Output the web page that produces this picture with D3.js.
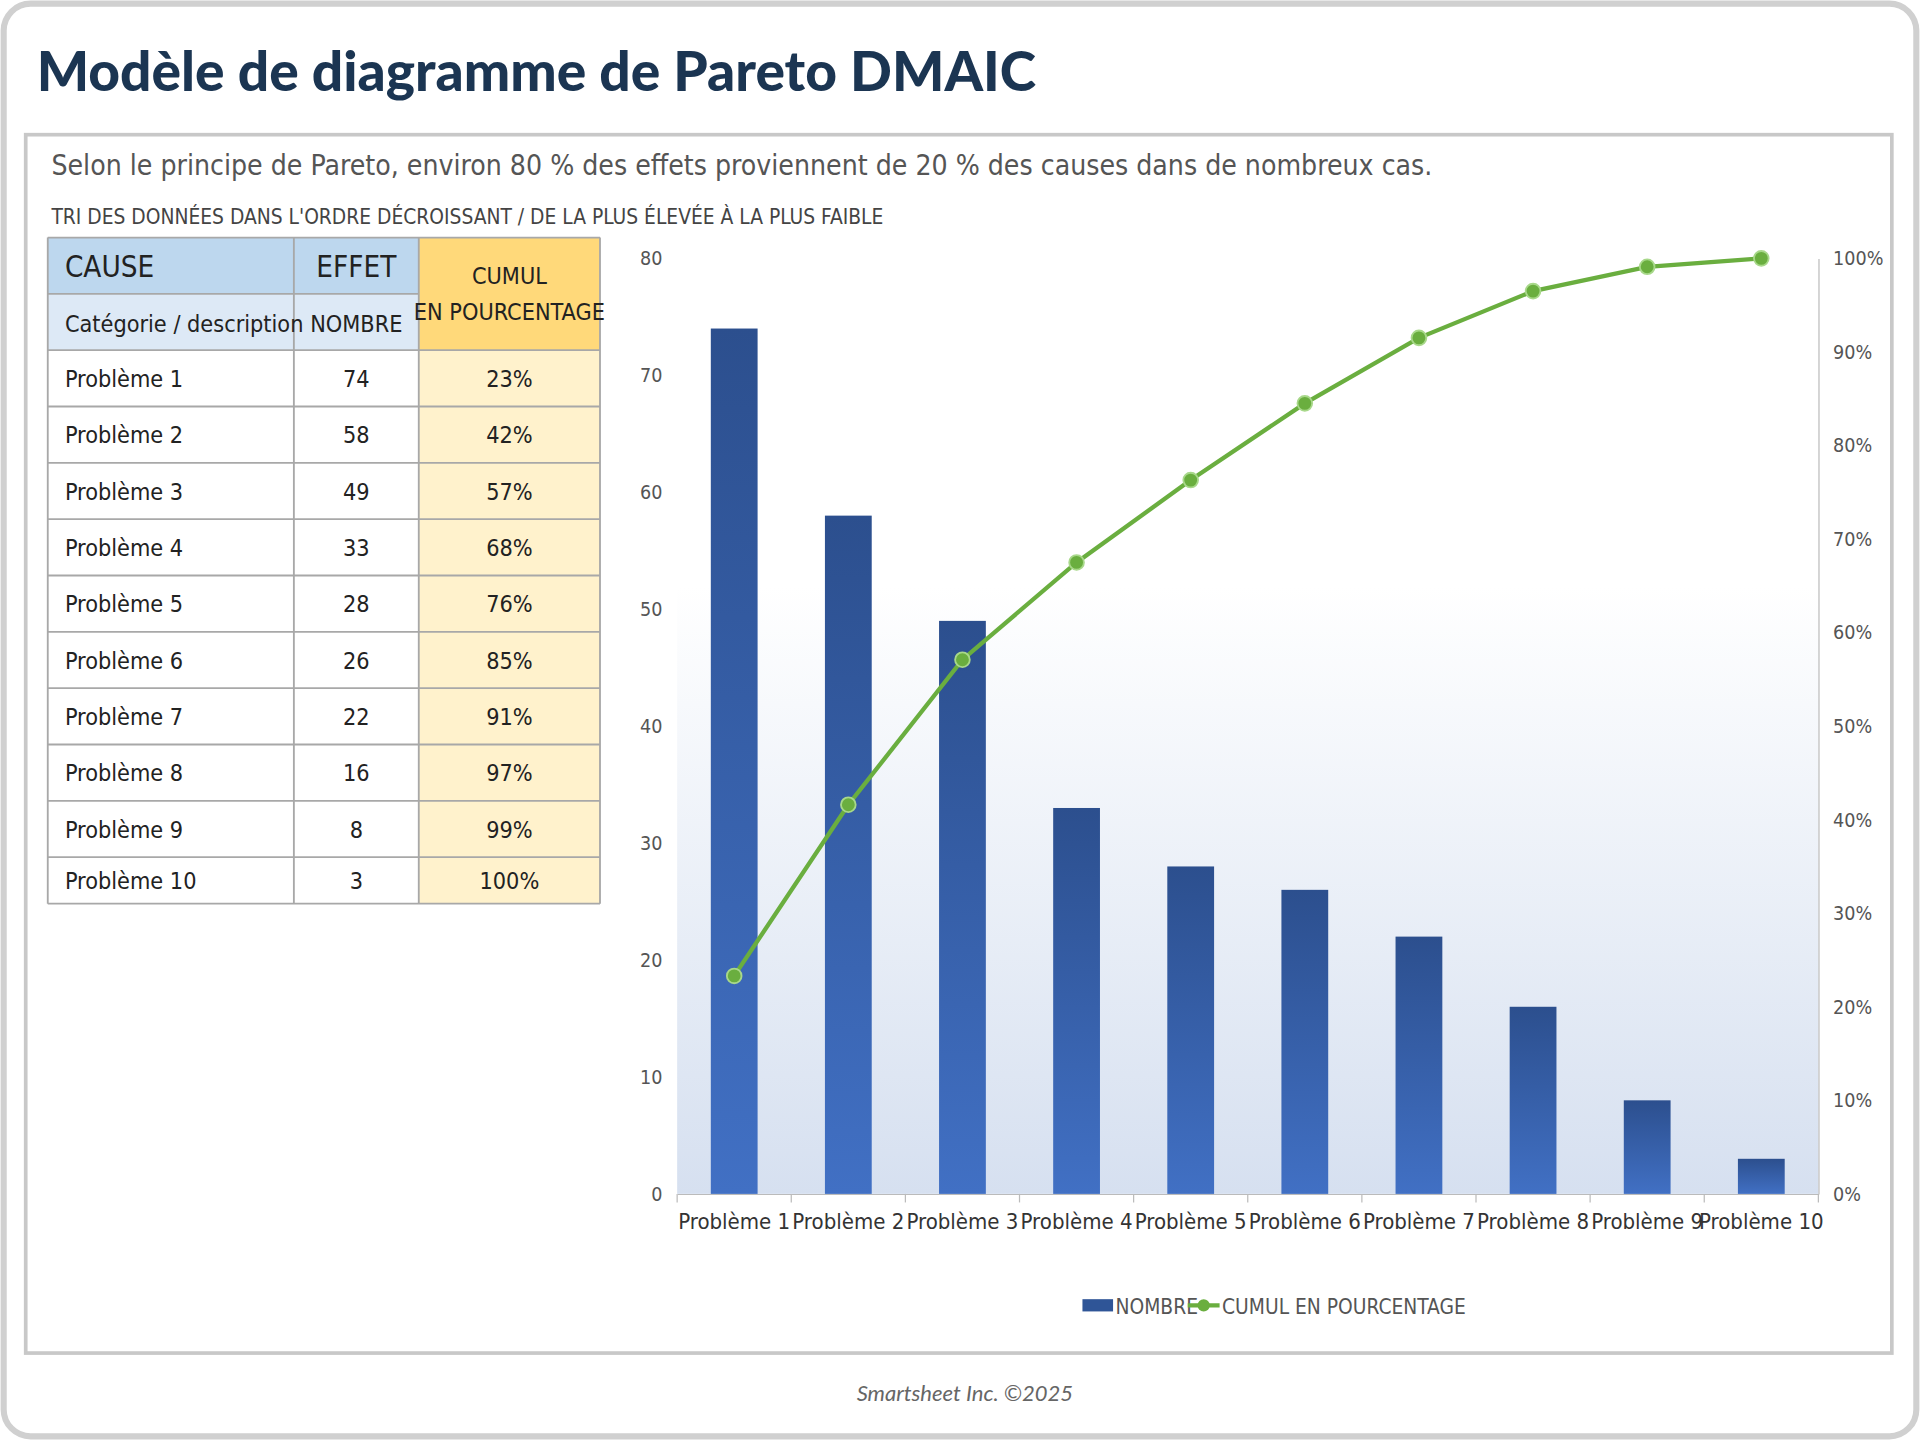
<!DOCTYPE html>
<html><head><meta charset="utf-8">
<script src="https://cdn.jsdelivr.net/npm/d3@7"></script>
<style>
body{margin:0;background:#fff}
svg{display:block}
</style></head>
<body>
<script>
const causes = ['Problème 1','Problème 2','Problème 3','Problème 4','Problème 5','Problème 6','Problème 7','Problème 8','Problème 9','Problème 10']
const counts = [74, 58, 49, 33, 28, 26, 22, 16, 8, 3]
const cumulPct = [23.3, 41.6, 57.1, 67.5, 76.3, 84.5, 91.5, 96.5, 99.1, 100]
const cumulLabels = ['23%','42%','57%','68%','76%','85%','91%','97%','99%','100%']
const leftTicks = [0,10,20,30,40,50,60,70,80]
const rightTicks = [0,10,20,30,40,50,60,70,80,90,100]

const narrow = "'Liberation Sans Narrow','DejaVu Sans Condensed',sans-serif"

const svg = d3.select('body').append('svg')
  .attr('width', 1920).attr('height', 1440)
  .attr('viewBox', '0 0 1568 1176')

// gradient for plot background
const defs = svg.append('defs')
const bg = defs.append('linearGradient').attr('id','bg').attr('x1',0).attr('y1',0).attr('x2',0).attr('y2',1)
bg.append('stop').attr('offset','35%').attr('stop-color','#ffffff')
bg.append('stop').attr('offset','100%').attr('stop-color','#d6e0f0')
const barG = defs.append('linearGradient').attr('id','bar').attr('x1',0).attr('y1',0).attr('x2',0).attr('y2',1)
barG.append('stop').attr('offset','0%').attr('stop-color','#2c4f8e')
barG.append('stop').attr('offset','100%').attr('stop-color','#4170c4')

// frame
svg.append('rect').attr('x',3).attr('y',3).attr('width',1562).attr('height',1170)
  .attr('rx',22).attr('fill','#fff').attr('stroke','#d0d0d0').attr('stroke-width',5)
svg.append('text').attr('x',30).attr('y',74).text('Modèle de diagramme de Pareto DMAIC')
  .style('font-family','Lato, sans-serif').style('font-weight',900).style('font-size','45px').attr('fill','#1b3552')
svg.append('rect').attr('x',21).attr('y',110).attr('width',1524).attr('height',995)
  .attr('fill','none').attr('stroke','#c8c8c8').attr('stroke-width',3)
svg.append('text').attr('x',42).attr('y',143)
  .text('Selon le principe de Pareto, environ 80 % des effets proviennent de 20 % des causes dans de nombreux cas.')
  .style('font-family',narrow).style('font-size','23px').attr('fill','#555')
svg.append('text').attr('x',42).attr('y',183)
  .text("TRI DES DONNÉES DANS L'ORDRE DÉCROISSANT / DE LA PLUS ÉLEVÉE À LA PLUS FAIBLE")
  .style('font-family',narrow).style('font-size','17px').attr('fill','#444')
svg.append('text').attr('x',788).attr('y',1144).attr('text-anchor','middle')
  .text('Smartsheet Inc. ©2025').style('font-family','Lato, sans-serif').style('font-style','italic')
  .style('font-size','18px').attr('fill','#666')

// table
const tbl = svg.append('g').style('font-family',narrow)
const cx = [39, 240, 342, 490]
const rowY = [194, 240, 286, 332, 378, 424, 470, 516, 562, 608, 654, 700, 738]
const line = '#a8a8a8'
// header backgrounds
tbl.append('rect').attr('x',cx[0]).attr('y',rowY[0]).attr('width',cx[2]-cx[0]).attr('height',46).attr('fill','#bdd7ee')
tbl.append('rect').attr('x',cx[0]).attr('y',rowY[1]).attr('width',cx[2]-cx[0]).attr('height',46).attr('fill','#dde9f6')
tbl.append('rect').attr('x',cx[2]).attr('y',rowY[0]).attr('width',cx[3]-cx[2]).attr('height',92).attr('fill','#ffd97a')
tbl.append('rect').attr('x',cx[2]).attr('y',rowY[2]).attr('width',cx[3]-cx[2]).attr('height',rowY[12]-rowY[2]).attr('fill','#fff2cc')
rowY.forEach((y,i) => {
  if (i === 1) tbl.append('line').attr('x1',cx[0]).attr('x2',cx[2]).attr('y1',y).attr('y2',y).attr('stroke',line).attr('stroke-width',1.5)
  else tbl.append('line').attr('x1',cx[0]).attr('x2',cx[3]).attr('y1',y).attr('y2',y).attr('stroke',line).attr('stroke-width',1.5)
})
cx.forEach(x => tbl.append('line').attr('x1',x).attr('x2',x).attr('y1',rowY[0]).attr('y2',rowY[12]).attr('stroke',line).attr('stroke-width',1.5))
const txt = (x,y,s,size,anchor) => tbl.append('text').attr('x',x).attr('y',y).text(s)
  .style('font-size',size+'px').attr('fill','#222').attr('text-anchor',anchor||'start')
txt(53,226,'CAUSE',24); txt(291,226,'EFFET',24,'middle')
txt(53,271,'Catégorie / description',19); txt(291,271,'NOMBRE',19,'middle')
txt(416,232,'CUMUL',19,'middle'); txt(416,261,'EN POURCENTAGE',19,'middle')
causes.forEach((c,i) => {
  const y = (rowY[i+2] + rowY[i+3]) / 2 + 7
  txt(53,y,c,19); txt(291,y,counts[i],19,'middle'); txt(416,y,cumulLabels[i],19,'middle')
})

// chart
const x0 = 553, x1 = 1485, yTop = 211, yBot = 975
const x = d3.scaleBand().domain(causes).range([x0,x1]).paddingInner(0.59).paddingOuter(0.295)
const y = d3.scaleLinear().domain([0,80]).range([yBot,yTop])
const yr = d3.scaleLinear().domain([0,100]).range([yBot,yTop])
const ch = svg.append('g').style('font-family',narrow)
ch.append('rect').attr('x',x0).attr('y',yTop).attr('width',x1-x0).attr('height',yBot-yTop).attr('fill','url(#bg)')
ch.selectAll('.bar').data(counts).join('rect').attr('class','bar')
  .attr('x',(d,i)=>x(causes[i])).attr('width',x.bandwidth())
  .attr('y',d=>y(d)).attr('height',d=>yBot-y(d)).attr('fill','url(#bar)')

const ax = ch.append('g').attr('transform',`translate(0,${yBot})`)
  .call(d3.axisBottom(x).tickSize(0).tickPadding(16))
ax.select('.domain').attr('stroke','#bbb')
ax.selectAll('text').style('font-size','18px').attr('fill','#333').style('font-family',narrow)
const step = x.step()
ch.selectAll('.xt').data(d3.range(causes.length+1)).join('line')
  .attr('x1',i=>x0+i*step).attr('x2',i=>x0+i*step).attr('y1',yBot).attr('y2',yBot+7).attr('stroke','#bbb')

const ay = ch.append('g').attr('transform',`translate(${x0},0)`)
  .call(d3.axisLeft(y).tickValues(leftTicks).tickSize(0).tickPadding(12))
ay.select('.domain').remove()
ay.selectAll('text').style('font-size','16px').attr('fill','#555').style('font-family',narrow)
const ayr = ch.append('g').attr('transform',`translate(${x1},0)`)
  .call(d3.axisRight(yr).tickValues(rightTicks).tickSize(0).tickPadding(12).tickFormat(d=>d+'%'))
ayr.select('.domain').attr('stroke','#bbb')
ayr.selectAll('text').style('font-size','16px').attr('fill','#555').style('font-family',narrow)

const cxp = i => x(causes[i]) + x.bandwidth()/2
ch.append('path').datum(cumulPct)
  .attr('d', d3.line().x((d,i)=>cxp(i)).y(d=>yr(d)))
  .attr('fill','none').attr('stroke','#6aae3f').attr('stroke-width',3.5)
ch.selectAll('.pt').data(cumulPct).join('circle')
  .attr('cx',(d,i)=>cxp(i)).attr('cy',d=>yr(d)).attr('r',6)
  .attr('fill','#6aae3f').attr('stroke','#a8d88a').attr('stroke-width',1.5)

// legend
const lg = ch.append('g')
lg.append('rect').attr('x',884).attr('y',1061).attr('width',25).attr('height',10).attr('fill','#2f5597')
lg.append('text').attr('x',911).attr('y',1073).text('NOMBRE').style('font-size','17px').attr('fill','#555')
lg.append('line').attr('x1',970).attr('x2',996).attr('y1',1066).attr('y2',1066).attr('stroke','#6aae3f').attr('stroke-width',3.5)
lg.append('circle').attr('cx',983).attr('cy',1066).attr('r',5).attr('fill','#6aae3f')
lg.append('text').attr('x',998).attr('y',1073).text('CUMUL EN POURCENTAGE').style('font-size','17px').attr('fill','#555')
</script>
</body></html>
